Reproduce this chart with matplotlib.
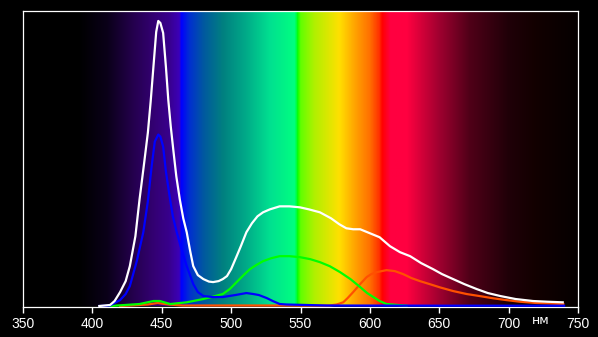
import matplotlib.pyplot as plt
import numpy as np
from matplotlib.colors import LinearSegmentedColormap

# wavelength (nm) / intensity (arbitrary units, pixel heights)
white_nm = [405, 412.7, 416, 420, 424, 427, 431, 434, 437, 440, 442, 444, 446, 447.5,
            449, 451, 453, 454.7, 456.5, 458.3, 460.5, 463, 465.5, 468, 470.5, 472.7,
            476, 480, 484, 487, 491, 494, 497, 500, 504, 507, 511, 515, 519, 523, 528,
            535, 542, 549.6, 556, 564, 572, 578, 583, 588, 593, 600, 607, 614.5, 621.7,
            629, 637, 645.5, 652, 660, 668, 677, 685, 694, 705, 717.6, 728, 739]
white_val = [0, 1, 5, 14, 25, 40, 70, 107, 140, 174, 205, 240, 275, 286,
             284, 274, 240, 207, 180, 157, 130, 107, 88, 74, 55, 40,
             31, 27, 24.5, 24, 25, 27, 30, 37, 50, 60, 74, 83, 90, 94, 97,
             100, 100, 99, 97, 94, 88, 82, 78, 77, 77, 73, 69, 60, 54,
             50, 43, 37, 32, 27, 22, 17, 13, 10, 7, 5, 4.3, 3.7]

blue_nm = [405, 412.7, 416, 420, 424, 427, 432, 436.7, 440, 442.7, 445, 447.5, 449, 451,
           453, 456, 458, 460.8, 464, 468, 472.7, 476, 480, 487, 494, 503, 511, 516, 520,
           525.6, 530, 535, 540, 569, 650, 740]
blue_val = [0, 0.5, 3, 6, 12, 20, 45, 74, 105, 140, 165, 172, 170, 160,
            135, 107, 90, 74, 58, 40, 22, 14, 10, 9, 9, 11, 13, 12, 11,
            8, 5, 2, 1.5, 0.5, 0.3, 0.3]

green_nm = [412.7, 434, 444, 448.7, 456, 468, 480, 494, 499, 504, 509, 513.6, 518, 523, 529,
            535, 542, 549.6, 557, 564, 571, 578.5, 586, 593, 598, 602.5, 607, 612, 626.5]
green_val = [0, 2, 5, 5, 2, 3.7, 7, 12, 17, 24, 31, 37, 41, 45, 48,
             50, 50, 49, 47, 44, 40, 34, 27, 19, 13, 9, 5, 2, 0.3]

red_nm = [420, 440, 447, 455, 465, 571, 576, 580.8, 584, 588, 593, 597.7, 601, 605, 612,
          618, 624, 630, 636, 643, 650.5, 660, 669.8, 679, 689, 698, 708, 720, 739.4]
red_val = [0, 1.5, 3, 1.5, 0.5, 0.5, 1.5, 3.7, 8, 14, 22, 29, 32, 34, 36,
           35, 32, 28, 25, 22, 18.7, 15, 12, 10, 7.7, 6, 4.3, 3, 2]

x_ticks = [350, 400, 450, 500, 550, 600, 650, 700, 750]
unit_label = "нм"

# background spectrum stops (nm, colour)
spectrum = [(350, "#000000"), (390, "#000000"), (410, "#0a0018"), (430, "#25004f"),
            (445, "#340075"), (455, "#38008c"), (462.5, "#3c00b8"), (464, "#0000ff"),
            (470, "#0030d0"), (480, "#0058a0"), (494, "#008080"), (510, "#00a888"),
            (528, "#00e090"), (546, "#00ff80"), (548, "#00ff00"), (550, "#60ff00"),
            (560, "#b0f000"), (578, "#ffe000"), (590, "#ffa000"), (600, "#ff7000"),
            (607, "#ff3000"), (609, "#ff0000"), (615, "#ff0040"), (627, "#ff0040"),
            (650, "#a00030"), (672, "#500018"), (700, "#200008"), (720, "#120000"),
            (750, "#050000")]

fig = plt.figure(figsize=(5.98, 3.37), dpi=100, facecolor="black")
ax = fig.add_axes([23 / 598, 30 / 337, 555 / 598, 296 / 337])
ax.set_facecolor("black")

ymax = 296
lo, hi = spectrum[0][0], spectrum[-1][0]
cmap = LinearSegmentedColormap.from_list(
    "spec", [((w - lo) / (hi - lo), c) for w, c in spectrum], N=1024)
grad = np.linspace(0, 1, 1200).reshape(1, -1)
ax.imshow(grad, cmap=cmap, aspect="auto", extent=[350, 750, 0, ymax],
          interpolation="bilinear", zorder=0)

ax.plot(red_nm, red_val, color="#ff5000", lw=1.6, zorder=2)
ax.plot(green_nm, green_val, color="#00ff00", lw=1.6, zorder=3)
ax.plot(blue_nm, blue_val, color="#0000ff", lw=1.6, zorder=4)
ax.plot(white_nm, white_val, color="white", lw=1.6, zorder=5)

ax.set_xlim(350, 750)
ax.set_ylim(-1, ymax)
ax.set_xticks(x_ticks)
ax.set_xticklabels([str(t) for t in x_ticks])
ax.set_yticks([])
ax.tick_params(axis="x", colors="white", direction="out", length=4, width=1,
               labelsize=10, pad=3)
for lab in ax.get_xticklabels():
    lab.set_family("Liberation Sans")
for s in ax.spines.values():
    s.set_color("white")
    s.set_linewidth(0.9)

fig.text(541 / 598, 1 - 320 / 337, unit_label, color="white", fontsize=9,
         ha="center", va="center", family="DejaVu Sans")

fig.savefig("out.png", dpi=100, facecolor="black")
